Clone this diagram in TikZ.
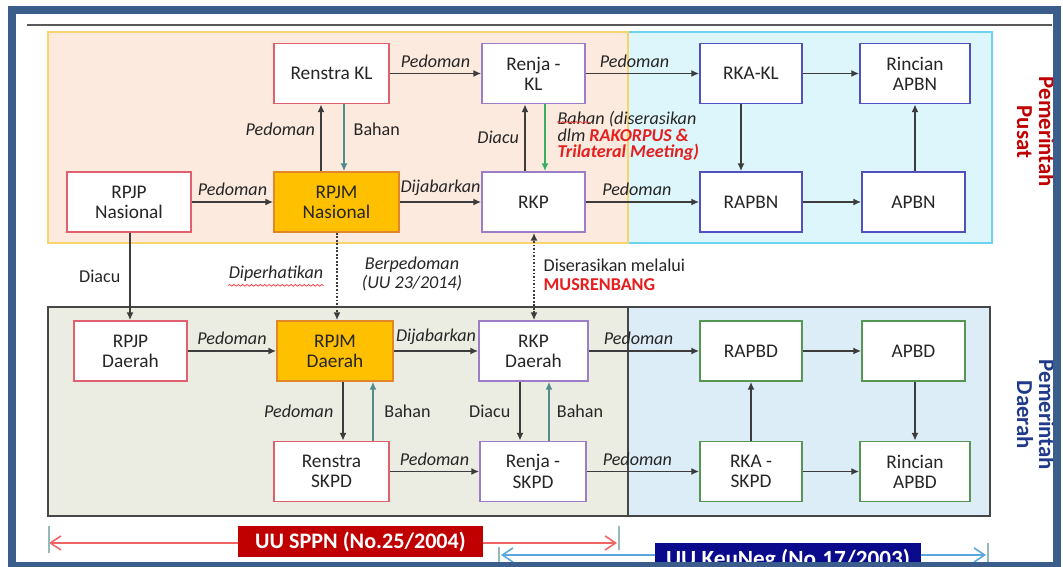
\documentclass[tikz,border=0pt]{standalone}
\usepackage{fontspec}
\setmainfont{Carlito}
\usepackage{xcolor}
\definecolor{frameblue}{RGB}{58,93,140}
\definecolor{peachfill}{RGB}{252,234,222}
\definecolor{goldline}{RGB}{248,212,110}
\definecolor{cyanfill}{RGB}{221,246,251}
\definecolor{cyanline}{RGB}{110,212,238}
\definecolor{olivefill}{RGB}{236,237,226}
\definecolor{skyfill}{RGB}{221,237,248}
\definecolor{panelline}{RGB}{70,70,70}
\definecolor{redbox}{RGB}{224,96,112}
\definecolor{purplebox}{RGB}{155,125,200}
\definecolor{bluebox}{RGB}{80,80,190}
\definecolor{greenbox}{RGB}{85,150,85}
\definecolor{orangefill}{RGB}{255,192,0}
\definecolor{orangeline}{RGB}{225,135,40}
\definecolor{arrgray}{RGB}{60,60,60}
\definecolor{tealarr}{RGB}{80,140,140}
\definecolor{rakred}{RGB}{230,30,30}
\definecolor{pusatred}{RGB}{192,0,0}
\definecolor{daerahblue}{RGB}{31,58,138}
\definecolor{lawred}{RGB}{240,100,100}
\definecolor{lawblue}{RGB}{90,168,224}
\definecolor{sppnred}{RGB}{192,0,0}
\definecolor{keunegblue}{RGB}{10,10,140}
\usetikzlibrary{arrows.meta,positioning,calc,decorations.pathmorphing}

\begin{document}
\begin{tikzpicture}[x=0.02cm, y=-0.02cm,
  flowtip/.tip={Latex[length=4.5pt,width=4pt]},
  box/.style={draw, fill=white, line width=0.9pt, minimum height=1.2cm, align=center, text=black!85, font=\fontsize{11}{11.5}\selectfont, inner sep=1pt},
  arr/.style={-flowtip, line width=1pt, draw=arrgray},
  lbl/.style={font=\fontsize{10.3}{10.5}\selectfont\itshape, text=black!85, inner sep=3pt},
  txt/.style={font=\fontsize{10.3}{10.5}\selectfont, text=black!85, inner sep=3pt},
  side/.style={rotate=-90, font=\fontsize{13}{12.5}\selectfont\bfseries, align=center},
  law/.style={font=\bfseries, text=white, minimum height=0.62cm, inner sep=0pt}]

  \useasboundingbox (0,0) rectangle (1063,567);
  \fill[white] (0,0) rectangle (1063,567);

  % Background panels
  \draw[gray!70!black, line width=1.1pt] (27,25) -- (1052,25);
  \fill[cyanfill, draw=cyanline, line width=1pt] (628,32) rectangle (992,243);
  \fill[peachfill, draw=goldline, line width=1.2pt] (48,32) rectangle (628,243);
  \fill[olivefill, draw=panelline, line width=1pt] (48,307) rectangle (628,516);
  \fill[skyfill, draw=panelline, line width=1pt] (628,307) rectangle (990,516);

  % Pemerintah Pusat
  \node[box, draw=redbox, minimum width=2.3cm] (renstrakl) at (331.5,73.5) {Renstra KL};
  \node[box, draw=purplebox, minimum width=2.06cm] (renjakl) at (533.5,73.5) {Renja -\\KL};
  \node[box, draw=bluebox, minimum width=2.04cm] (rkakl) at (751,73.5) {RKA-KL};
  \node[box, draw=bluebox, minimum width=2.2cm] (rincianapbn) at (915,73.5) {Rincian\\APBN};
  \node[box, draw=redbox, minimum width=2.48cm] (rpjpnas) at (129,202) {RPJP\\Nasional};
  \node[box, draw=orangeline, fill=orangefill, minimum width=2.5cm] (rpjmnas) at (336.5,202) {RPJM\\Nasional};
  \node[box, draw=purplebox, minimum width=2.06cm] (rkp) at (533.5,202) {RKP};
  \node[box, draw=bluebox, minimum width=2.04cm] (rapbn) at (751,202) {RAPBN};
  \node[box, draw=bluebox, minimum width=2.06cm] (apbn) at (913.5,202) {APBN};

  % Pemerintah Daerah
  \node[box, draw=redbox, minimum width=2.26cm] (rpjpda) at (130.5,351) {RPJP\\Daerah};
  \node[box, draw=orangeline, fill=orangefill, minimum width=2.32cm] (rpjmda) at (335,351) {RPJM\\Daerah};
  \node[box, draw=purplebox, minimum width=2.18cm] (rkpda) at (533.5,351) {RKP\\Daerah};
  \node[box, draw=greenbox, minimum width=2.04cm] (rapbd) at (751,351) {RAPBD};
  \node[box, draw=greenbox, minimum width=2.06cm] (apbd) at (913.5,351) {APBD};
  \node[box, draw=redbox, minimum width=2.3cm] (renstraskpd) at (331.5,471.5) {Renstra\\SKPD};
  \node[box, draw=purplebox, minimum width=2.12cm] (renjaskpd) at (533,471.5) {Renja -\\SKPD};
  \node[box, draw=greenbox, minimum width=2.04cm] (rkaskpd) at (751,471.5) {RKA -\\SKPD};
  \node[box, draw=greenbox, minimum width=2.2cm] (rincianapbd) at (915,471.5) {Rincian\\APBD};

  % Arrows, top
  \draw[arr] (renstrakl) -- node[lbl, above] {Pedoman} (renjakl);
  \draw[arr] (renjakl) -- node[lbl, above, pos=0.43] {Pedoman} (rkakl);
  \draw[arr] (rkakl) -- (rincianapbn);
  \draw[arr] (rpjpnas) -- node[lbl, above] {Pedoman} (rpjmnas);
  \draw[arr] (rpjmnas) -- node[lbl, above] {Dijabarkan} (rkp);
  \draw[arr] (rkp) -- node[lbl, above, pos=0.45] {Pedoman} (rapbn);
  \draw[arr] (rapbn) -- (apbn);
  \draw[arr] (apbn.north -| 915,0) -- (rincianapbn.south -| 915,0);
  \draw[arr] (rkakl.south -| 741,0) -- (rapbn.north -| 741,0);
  \draw[arr] (rpjmnas.north -| 321,0) -- node[lbl, left, yshift=5pt] {Pedoman} (renstrakl.south -| 321,0);
  \draw[arr, draw=tealarr] (renstrakl.south -| 344,0) -- node[txt, right, xshift=2pt, yshift=5pt] {Bahan} (rpjmnas.north -| 344,0);
  \draw[arr] (rkp.north -| 525,0) -- node[lbl, left] {Diacu} (renjakl.south -| 525,0);
  \draw[arr, draw=tealarr!70!green] (renjakl.south -| 545,0) -- (rkp.north -| 545,0);
  \node[lbl, anchor=west, align=left, font=\fontsize{10.3}{9.6}\selectfont\itshape] (bahanlbl) at (552,136)
    {Bahan (diserasikan\\dlm {\color{rakred}\bfseries RAKORPUS \&}\\{\color{rakred}\bfseries Trilateral Meeting)}};
  \draw[red!80, line width=0.4pt, decorate, decoration={snake, amplitude=0.5pt, segment length=2.5pt}]
    ($(bahanlbl.north west)+(5,17)$) -- ($(bahanlbl.north west)+(38,17)$);

  % Between panels
  \draw[arr] (rpjpnas.south -| 130,0) -- node[txt, left, xshift=-2pt] {Diacu} (rpjpda.north -| 130,0);
  \draw[arr, densely dotted, line width=1.2pt] (rpjmnas.south -| 337,0) -- (rpjmda.north -| 337,0);
  \node[lbl] (diperhatikan) at (276,274) {Diperhatikan};
  \draw[red!80, line width=0.4pt, decorate, decoration={snake, amplitude=0.5pt, segment length=2.5pt}]
    ($(diperhatikan.south west)+(5,-2)$) -- ($(diperhatikan.south east)+(-5,-2)$);
  \node[lbl, align=center] (berpedoman) at (412,274) {Berpedoman\\(UU 23/2014)};
  \draw[arr, flowtip-flowtip, densely dotted, line width=1.2pt] (rkpda.north -| 534,0) -- (rkp.south -| 534,0);
  \node[txt, anchor=west, align=left, font=\fontsize{10.3}{10.8}\selectfont] (musrenbang) at (538,275)
    {Diserasikan melalui\\{\color{rakred}\bfseries MUSRENBANG}};

  % Arrows, bottom
  \draw[arr] (rpjpda) -- node[lbl, above] {Pedoman} (rpjmda);
  \draw[arr] (rpjmda) -- node[lbl, above] {Dijabarkan} (rkpda);
  \draw[arr] (rkpda) -- node[lbl, above, pos=0.45] {Pedoman} (rapbd);
  \draw[arr] (rapbd) -- (apbd);
  \draw[arr] (apbd.south -| 915,0) -- (rincianapbd.north -| 915,0);
  \draw[arr] (rkaskpd) -- (rapbd);
  \draw[arr] (rkaskpd) -- (rincianapbd);
  \draw[arr] (renstraskpd) -- node[lbl, above] {Pedoman} (renjaskpd);
  \draw[arr] (renjaskpd) -- node[lbl, above, pos=0.45] {Pedoman} (rkaskpd);
  \draw[arr] (rpjmda.south -| 343,0) -- node[lbl, left, xshift=-2pt] {Pedoman} (renstraskpd.north -| 343,0);
  \draw[arr, draw=tealarr] (renstraskpd.north -| 373,0) -- node[txt, right, xshift=3pt] {Bahan} (rpjmda.south -| 373,0);
  \draw[arr] (rkpda.south -| 520,0) -- node[txt, left, xshift=-2pt] {Diacu} (renjaskpd.north -| 520,0);
  \draw[arr, draw=tealarr] (renjaskpd.north -| 549,0) -- node[txt, right, xshift=1pt] {Bahan} (rkpda.south -| 549,0);

  % Side titles
  \node[side, text=pusatred] (pusat) at (1036,132) {Pemerintah\\Pusat};
  \node[side, text=daerahblue] (daerah) at (1036,415) {Pemerintah\\Daerah};

  % Laws
  \coordinate (sppnL) at (49,543);
  \coordinate (sppnR) at (617,543);
  \draw[lawred, line width=0.9pt, {Straight Barb[length=6pt,width=8pt]}-{Straight Barb[length=6pt,width=8pt]}] (sppnL) -- (sppnR);
  \draw[tealarr!60, line width=0.9pt] (49,526) -- (49,553);
  \draw[tealarr!60, line width=0.9pt] (619,526) -- (619,550);
  \node[law, fill=sppnred, minimum width=4.9cm, font=\fontsize{12.6}{13}\selectfont\bfseries] (sppn) at (360.5,541.5) {UU SPPN (No.25/2004)};
  \coordinate (keunegL) at (501,555);
  \coordinate (keunegR) at (986,555);
  \draw[lawblue, line width=0.9pt, {Straight Barb[length=6pt,width=8pt]}-{Straight Barb[length=6pt,width=8pt]}] (keunegL) -- (keunegR);
  \draw[tealarr!60, line width=0.9pt] (499,547) -- (499,563);
  \draw[tealarr!60, line width=0.9pt] (988,543) -- (988,563);
  \node[law, fill=keunegblue, minimum width=5.32cm, minimum height=0.68cm, font=\fontsize{13.2}{13.5}\selectfont\bfseries] (keuneg) at (788,560) {UU KeuNeg (No.17/2003)};

  % Frame
  \draw[frameblue, line width=4pt] (12,10) rectangle (1057,566);
\end{tikzpicture}
\end{document}
